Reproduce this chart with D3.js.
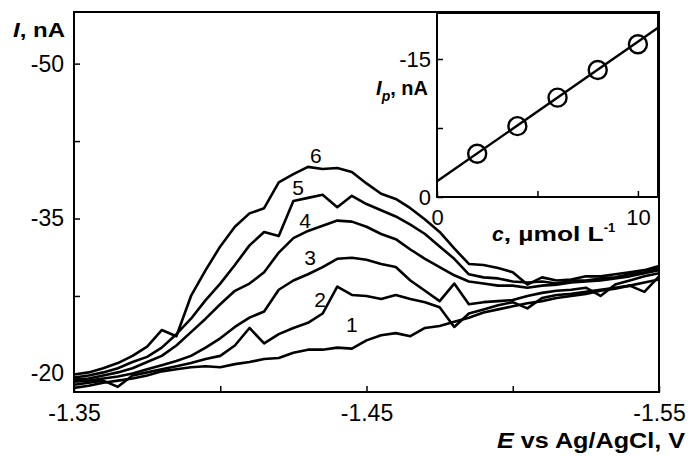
<!DOCTYPE html>
<html>
<head>
<meta charset="utf-8">
<script src="https://cdn.jsdelivr.net/npm/d3@7.9.0/dist/d3.min.js"></script>
<style>
  body { margin: 0; background: #fff; }
  svg { display: block; font-family: Arial, 'Liberation Sans', sans-serif; }
</style>
</head>
<body>
<svg id="chart" width="690" height="456"></svg>
<script>
// potential grid (V vs Ag/AgCl)
const potentials = [-1.350, -1.355, -1.360, -1.365, -1.370, -1.375, -1.380, -1.385, -1.390, -1.395,
  -1.400, -1.405, -1.410, -1.415, -1.420, -1.425, -1.430, -1.435, -1.440, -1.445,
  -1.450, -1.455, -1.460, -1.465, -1.470, -1.475, -1.480, -1.485, -1.490, -1.495,
  -1.500, -1.505, -1.510, -1.515, -1.520, -1.525, -1.530, -1.535, -1.540, -1.545, -1.550];

// voltammograms, nA
const current1 = [-18.6, -18.8, -19.1, -19.3, -19.5, -19.8, -20.2, -20.4, -20.6, -20.7, -20.6, -20.9, -21.1, -21.4, -21.5, -22.0, -22.3, -22.3, -22.5, -22.4, -23.2, -23.7, -23.9, -23.6, -24.4, -24.6, -25.0, -25.4, -25.9, -26.2, -26.5, -26.8, -27.0, -27.3, -27.5, -27.7, -28.0, -28.2, -28.5, -28.8, -29.1];
const current2 = [-18.9, -19.1, -19.3, -18.7, -19.8, -20.1, -20.4, -20.7, -21.0, -21.4, -21.7, -22.7, -24.4, -22.9, -23.8, -24.4, -24.9, -25.8, -28.4, -27.6, -27.5, -27.2, -27.6, -27.2, -26.9, -26.4, -24.5, -25.8, -26.2, -26.6, -26.9, -26.3, -27.3, -27.6, -27.7, -27.9, -28.1, -28.3, -28.5, -27.9, -29.4];
const current3 = [-19.2, -19.3, -19.5, -19.7, -20.0, -20.4, -20.8, -21.2, -21.7, -22.5, -23.4, -24.5, -25.4, -26.0, -28.1, -29.0, -29.6, -30.3, -31.1, -31.2, -31.0, -30.6, -30.3, -29.0, -28.0, -27.0, -28.7, -26.7, -26.9, -27.0, -27.1, -27.5, -27.8, -28.0, -28.1, -28.3, -27.5, -28.6, -29.0, -29.4, -29.7];
const current4 = [-19.4, -19.5, -19.8, -20.1, -20.5, -21.1, -21.7, -22.7, -24.0, -25.3, -26.7, -28.0, -28.7, -29.8, -31.7, -33.1, -33.8, -34.3, -34.8, -34.7, -34.2, -33.5, -33.0, -32.0, -31.1, -30.3, -29.5, -28.9, -28.7, -28.5, -28.5, -28.3, -28.5, -28.6, -28.8, -28.9, -29.0, -29.2, -29.4, -29.7, -30.0];
const current5 = [-19.6, -19.8, -20.1, -20.5, -21.1, -21.6, -22.5, -23.8, -25.3, -27.1, -28.7, -30.5, -32.4, -33.7, -33.3, -36.7, -37.0, -37.3, -36.1, -37.2, -36.4, -35.8, -35.2, -34.4, -33.5, -32.3, -31.1, -29.6, -29.3, -29.2, -28.9, -28.8, -28.9, -28.7, -29.0, -29.0, -29.2, -29.3, -29.6, -29.8, -30.2];
const current6 = [-19.9, -20.1, -20.5, -21.0, -21.7, -22.6, -24.2, -23.6, -27.5, -30.0, -32.3, -34.2, -35.5, -36.0, -38.5, -39.3, -40.0, -39.8, -39.9, -39.5, -38.4, -37.4, -36.9, -36.0, -34.9, -33.7, -32.1, -30.6, -30.5, -30.2, -29.8, -28.6, -29.3, -29.0, -29.1, -29.4, -29.4, -29.6, -29.8, -30.0, -30.4];

// curve numbers and where they are written
const curveNames = ['1', '2', '3', '4', '5', '6'];
const curveNameE = [-1.4450, -1.4341, -1.4307, -1.4290, -1.4266, -1.4327];
const curveNameI = [-24.7, -27.2, -31.2, -34.8, -38.0, -41.1];

const xTicks = [-1.35, -1.40, -1.45, -1.50, -1.55];
const xTickLabels = ['-1.35', '', '-1.45', '', '-1.55'];
const yTicks = [-20, -27.5, -35, -42.5, -50];
const yTickLabels = ['-20', '', '-35', '', '-50'];

// inset: calibration
const concentrations = [2, 4, 6, 8, 10];
const peakCurrents = [-4.7, -7.7, -10.8, -13.8, -16.6];
const fitConcentrations = [0, 11];
const fitCurrents = [-1.7, -18.4];
const insetXTicks = [0, 5, 10];
const insetXTickLabels = ['0', '', '10'];
const insetYTicks = [0, -7.5, -15];
const insetYTickLabels = ['0', '', '-15'];

const svg = d3.select('#chart');

const x = d3.scaleLinear().domain([-1.35, -1.55]).range([74, 659]);
const y = d3.scaleLinear().domain([-18.2, -55]).range([392, 12]);

svg.append('clipPath').attr('id', 'plot-clip')
  .append('rect').attr('x', 74).attr('y', 12).attr('width', 585).attr('height', 380);

const line = d3.line()
  .x((d) => x(d[0]))
  .y((d) => y(d[1]));

const series = [current1, current2, current3, current4, current5, current6];

svg.append('g')
  .attr('clip-path', 'url(#plot-clip)')
  .selectAll('path')
  .data(series)
  .join('path')
  .attr('d', (s) => line(potentials.map((e, i) => [e, s[i]])))
  .attr('fill', 'none')
  .attr('stroke', '#000')
  .attr('stroke-width', 2.6)
  .attr('stroke-linejoin', 'round');

svg.append('g')
  .selectAll('text')
  .data(curveNames)
  .join('text')
  .attr('x', (d, i) => x(curveNameE[i]))
  .attr('y', (d, i) => y(curveNameI[i]))
  .attr('text-anchor', 'middle')
  .attr('dominant-baseline', 'central')
  .attr('font-size', 21)
  .text((d) => d);

// main axes, ticks pointing in
const xAxis = d3.axisBottom(x)
  .tickValues(xTicks)
  .tickFormat((d, i) => xTickLabels[i])
  .tickSizeInner(-6).tickSizeOuter(0).tickPadding(13);

const yAxis = d3.axisLeft(y)
  .tickValues(yTicks)
  .tickFormat((d, i) => yTickLabels[i])
  .tickSizeInner(-6).tickSizeOuter(0).tickPadding(10);

const gx = svg.append('g').attr('transform', 'translate(0,392)').call(xAxis);
const gy = svg.append('g').attr('transform', 'translate(74,0)').call(yAxis);
[gx, gy].forEach((g) => {
  g.select('.domain').remove();
  g.selectAll('line').attr('stroke', '#000').attr('stroke-width', 1.5);
  g.selectAll('text').attr('font-size', 23).attr('fill', '#000').attr('font-family', 'Arial, Liberation Sans, sans-serif');
});

svg.append('rect')
  .attr('x', 74).attr('y', 12).attr('width', 585).attr('height', 380)
  .attr('fill', 'none').attr('stroke', '#000').attr('stroke-width', 2);

const yTitle = svg.append('text')
  .attr('x', 13).attr('y', 37)
  .attr('textLength', 52).attr('lengthAdjust', 'spacingAndGlyphs')
  .attr('font-size', 21).attr('font-weight', 'bold');
yTitle.append('tspan').attr('font-style', 'italic').text('I');
yTitle.append('tspan').text(', nA');

const xTitle = svg.append('text')
  .attr('x', 497).attr('y', 448)
  .attr('textLength', 188).attr('lengthAdjust', 'spacingAndGlyphs')
  .attr('font-size', 22).attr('font-weight', 'bold');
xTitle.append('tspan').attr('font-style', 'italic').text('E');
xTitle.append('tspan').text(' vs Ag/AgCl, V');

// inset
const xi = d3.scaleLinear().domain([0, 11]).range([437, 658]);
const yi = d3.scaleLinear().domain([0, -20]).range([197, 13]);

svg.append('rect')
  .attr('x', 437).attr('y', 13).attr('width', 221).attr('height', 184)
  .attr('fill', '#fff').attr('stroke', '#000').attr('stroke-width', 2);

svg.append('path')
  .attr('d', d3.line().x((d) => xi(d[0])).y((d) => yi(d[1]))(fitConcentrations.map((c, i) => [c, fitCurrents[i]])))
  .attr('fill', 'none').attr('stroke', '#000').attr('stroke-width', 2.4);

svg.append('g')
  .selectAll('circle')
  .data(concentrations)
  .join('circle')
  .attr('cx', (d) => xi(d))
  .attr('cy', (d, i) => yi(peakCurrents[i]))
  .attr('r', 9)
  .attr('fill', 'none')
  .attr('stroke', '#000')
  .attr('stroke-width', 2.4);

const xiAxis = d3.axisBottom(xi)
  .tickValues(insetXTicks)
  .tickFormat((d, i) => insetXTickLabels[i])
  .tickSizeInner(-6).tickSizeOuter(0).tickPadding(12);
const yiAxis = d3.axisLeft(yi)
  .tickValues(insetYTicks)
  .tickFormat((d, i) => insetYTickLabels[i])
  .tickSizeInner(-6).tickSizeOuter(0).tickPadding(6);

const gxi = svg.append('g').attr('transform', 'translate(0,197)').call(xiAxis);
const gyi = svg.append('g').attr('transform', 'translate(437,0)').call(yiAxis);
[gxi, gyi].forEach((g) => {
  g.select('.domain').remove();
  g.selectAll('line').attr('stroke', '#000').attr('stroke-width', 1.5);
  g.selectAll('text').attr('font-size', 22).attr('fill', '#000').attr('font-family', 'Arial, Liberation Sans, sans-serif');
});

const yiTitle = svg.append('text')
  .attr('x', 428).attr('y', 95)
  .attr('text-anchor', 'end')
  .attr('font-size', 20).attr('font-weight', 'bold');
yiTitle.append('tspan').attr('font-style', 'italic').text('I');
yiTitle.append('tspan').attr('font-style', 'italic').attr('font-size', 14).attr('dy', 6).text('p');
yiTitle.append('tspan').attr('dy', -6).text(', nA');

const xiTitle = svg.append('text')
  .attr('x', 492).attr('y', 241)
  .attr('font-size', 21).attr('font-weight', 'bold');
xiTitle.append('tspan').attr('font-style', 'italic').text('c');
xiTitle.append('tspan').attr('textLength', 100).attr('lengthAdjust', 'spacingAndGlyphs').text(', µmol L');
xiTitle.append('tspan').attr('font-size', 13).attr('dy', -9).text('-1');
</script>
</body>
</html>
